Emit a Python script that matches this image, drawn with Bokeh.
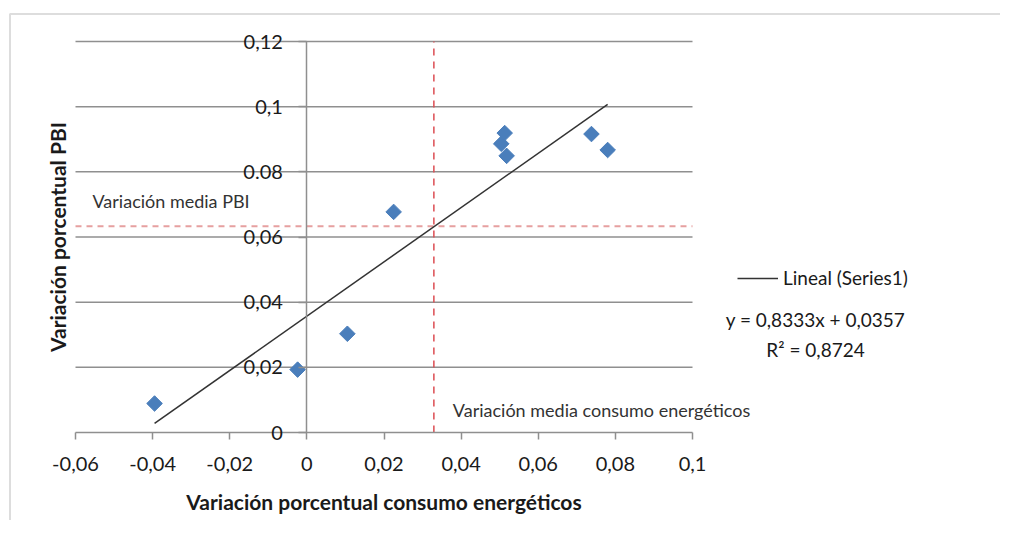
import numpy as np
from bokeh.plotting import figure
from bokeh.models import (LinearAxis, FixedTicker, Label, Legend, LegendItem,
                          BoxAnnotation, Range1d, ColumnDataSource)
from bokeh.embed import file_html
from bokeh.resources import INLINE

# ---- data ----
x_vals = [-0.0395, -0.0024, 0.0105, 0.0225, 0.0504, 0.0513, 0.0518, 0.0738, 0.0780]
y_vals = [0.0089, 0.0193, 0.0303, 0.0677, 0.0886, 0.0919, 0.0849, 0.0916, 0.0867]
slope = 0.8333
intercept = 0.0357
r2 = 0.8724

x_ticks = [-0.06, -0.04, -0.02, 0.0, 0.02, 0.04, 0.06, 0.08, 0.1]
x_tick_labels = ["-0,06", "-0,04", "-0,02", "0", "0,02", "0,04", "0,06", "0,08", "0,1"]
y_ticks = [0.0, 0.02, 0.04, 0.06, 0.08, 0.1, 0.12]
y_tick_labels = ["0", "0,02", "0,04", "0,06", "0.08", "0,1", "0,12"]

x_title = "Variación porcentual consumo energéticos"
y_title = "Variación porcentual PBI"
legend_label = "Lineal (Series1)"
mean_y_text = "Variación media PBI"
mean_x_text = "Variación media consumo energéticos"

FONT = "Lato"
TXT = "#1a1a1a"
GRAY = "#8f8f8f"

# ---- layout: the frame fills the canvas; plot area mapped to pixels ----
W, H = 1000, 520
PA_L, PA_R, PA_T, PA_B = 75, 692, 41, 432          # plot-area pixels
x_lo, x_hi = x_ticks[0], x_ticks[-1]
y_lo, y_hi = y_ticks[0], y_ticks[-1]
kx = (PA_R - PA_L) / (x_hi - x_lo)
ky = (PA_B - PA_T) / (y_hi - y_lo)
xr = Range1d(x_lo - PA_L / kx, x_hi + (W - PA_R) / kx)
yr = Range1d(y_lo - (H - PA_B) / ky, y_hi + PA_T / ky)

mean_x = float(np.mean(x_vals))
mean_y = float(np.mean(y_vals))
trend_x = [min(x_vals), max(x_vals)]
trend_y = [slope * v + intercept for v in trend_x]

p = figure(frame_width=W, frame_height=H, x_range=xr, y_range=yr,
           x_axis_location=None, y_axis_location=None,
           output_backend="svg", toolbar_location=None, min_border=0)
p.outline_line_color = None
for g in p.grid:
    g.visible = False

# horizontal gridlines over the plot area
gsrc = ColumnDataSource(dict(y=y_ticks[1:]))
p.segment(x0=x_lo, x1=x_hi, y0="y", y1="y", source=gsrc,
          line_color=GRAY, line_width=1.5)

# x axis (at y = 0)
xa = LinearAxis(fixed_location=0, bounds=(x_lo, x_hi),
                ticker=FixedTicker(ticks=x_ticks),
                major_label_overrides={t: l for t, l in zip(x_ticks, x_tick_labels)},
                axis_line_color=GRAY, axis_line_width=1.5,
                major_tick_line_color=GRAY, major_tick_line_width=1.5,
                major_tick_out=7, major_tick_in=0, minor_tick_line_color=None,
                major_label_text_font=FONT, major_label_text_font_size="20px",
                major_label_text_color=TXT, major_label_standoff=17,
                axis_label=x_title, axis_label_text_font=FONT,
                axis_label_text_font_style="bold", axis_label_text_font_size="21px",
                axis_label_text_color=TXT, axis_label_standoff=15)
p.add_layout(xa, "below")

# y axis crossing at x = 0
ya = LinearAxis(fixed_location=0, bounds=(y_lo, y_hi),
                ticker=FixedTicker(ticks=y_ticks),
                major_label_overrides={t: l for t, l in zip(y_ticks, y_tick_labels)},
                axis_line_color=GRAY, axis_line_width=1.5,
                major_tick_line_color=GRAY, major_tick_line_width=1.5,
                major_tick_out=8, major_tick_in=0, minor_tick_line_color=None,
                major_label_text_font=FONT, major_label_text_font_size="20px",
                major_label_text_color=TXT, major_label_standoff=16)
p.add_layout(ya, "left")

# y axis title (rotated, centred on the plot area)
p.add_layout(Label(x=57, y=H - (PA_T + PA_B) / 2, x_units="screen", y_units="screen",
                   text=y_title, angle=np.pi / 2, text_align="center",
                   text_baseline="middle", text_font=FONT, text_font_style="bold",
                   text_font_size="21px", text_color=TXT))

# mean lines
p.line([mean_x, mean_x], [y_lo, y_hi], line_color="#dc4c52",
       line_dash="7 6", line_width=1.5)
p.line([x_lo, x_hi], [mean_y, mean_y], line_color="#e6a0a0",
       line_dash="6 5", line_width=2)

# trend line
trend = p.line(trend_x, trend_y, line_color="#333333", line_width=1.5)

# data points (diamonds)
src = ColumnDataSource(dict(x=x_vals, y=y_vals))
p.scatter("x", "y", source=src, marker="square", angle=np.pi / 4, size=11,
          fill_color="#4a7ebb", line_color="#4a7ebb")

# annotation texts
p.add_layout(Label(x=x_lo, x_offset=17, y=mean_y, y_offset=25, text=mean_y_text,
                   text_font=FONT, text_font_size="18px", text_color="#333333",
                   text_baseline="middle"))
p.add_layout(Label(x=mean_x, x_offset=19, y=y_lo, y_offset=23, text=mean_x_text,
                   text_font=FONT, text_font_size="18px", text_color="#333333",
                   text_baseline="middle"))

# legend
legend = Legend(items=[LegendItem(label=legend_label, renderers=[trend])],
                location=(737, H - 289), glyph_width=41, glyph_height=20,
                label_standoff=5, padding=0, margin=0, border_line_color=None,
                background_fill_alpha=0, label_text_font=FONT,
                label_text_font_size="19px", label_text_color=TXT)
p.add_layout(legend)

# trendline equation
eq1 = "y = %sx + %s" % (str(slope).replace(".", ","), str(intercept).replace(".", ","))
eq2 = "R² = %s" % str(r2).replace(".", ",")
p.add_layout(Label(x=815, y=H - 319, x_units="screen", y_units="screen", text=eq1,
                   text_font=FONT, text_font_size="19px", text_color=TXT,
                   text_align="center", text_baseline="middle"))
p.add_layout(Label(x=815, y=H - 349, x_units="screen", y_units="screen", text=eq2,
                   text_font=FONT, text_font_size="19px", text_color=TXT,
                   text_align="center", text_baseline="middle"))

# chart-area border (top and left edges visible)
p.add_layout(BoxAnnotation(left=9.5, right=5000, top=H - 13.5, bottom=-5000,
                           left_units="screen", right_units="screen",
                           top_units="screen", bottom_units="screen",
                           fill_alpha=0, line_color="#909090", line_width=2))

open("out.html", "w").write(file_html(p, INLINE))
